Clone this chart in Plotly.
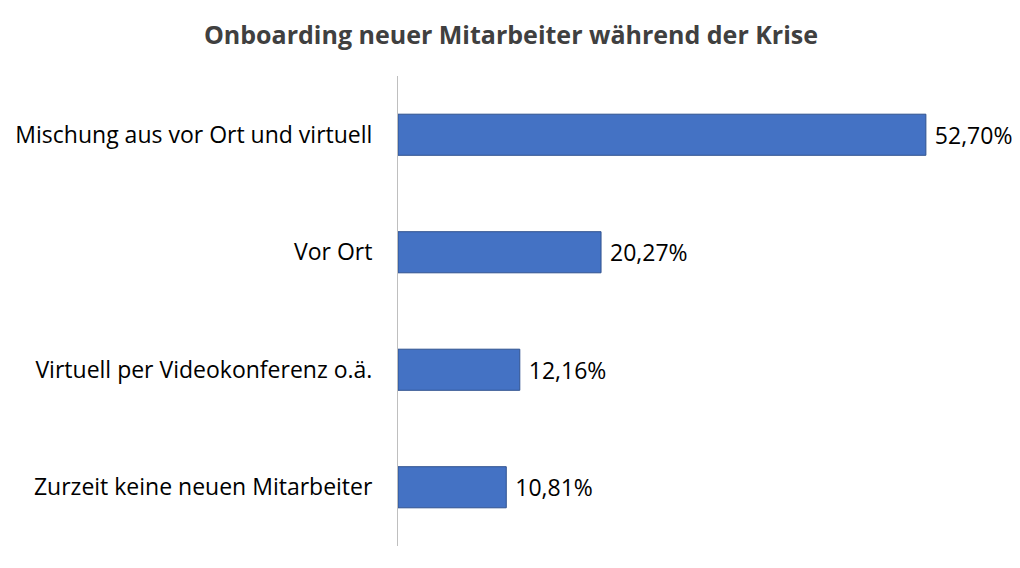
import plotly.graph_objects as go

categories = ["Mischung aus vor Ort und virtuell", "Vor Ort",
              "Virtuell per Videokonferenz o.ä.", "Zurzeit keine neuen Mitarbeiter"]
values = [52.70, 20.27, 12.16, 10.81]
labels = ["52,70%", "20,27%", "12,16%", "10,81%"]

fig = go.Figure(go.Bar(
    x=values, y=categories, orientation="h",
    marker=dict(color="#4472C4", line=dict(color="#2F528F", width=1)),
    width=0.35,
    text=labels, texttemplate="\u00a0%{text}", textposition="outside", cliponaxis=False,
    textfont=dict(family="Open Sans", size=23, color="#000000"),
))

fig.update_layout(
    width=1020, height=568,
    paper_bgcolor="white", plot_bgcolor="white",
    margin=dict(l=390, r=29, t=68, b=30, pad=0, autoexpand=False),
    title=dict(text="<b>Onboarding neuer Mitarbeiter während der Krise</b>",
               x=503 / 1020, xanchor="center", xref="container",
               y=1 - 27 / 568, yanchor="middle", yref="container",
               font=dict(family="Open Sans", size=25, color="#404040")),
    showlegend=False,
    font=dict(family="Open Sans"),
)
fig.update_xaxes(range=[0, 60], showgrid=False, zeroline=False,
                 showticklabels=False, ticks="", automargin=False)
fig.update_yaxes(categoryorder="array", categoryarray=categories[::-1],
                 autorange=False, range=[-0.5, 3.5], automargin=False,
                 showline=True, linecolor="#BFBFBF", linewidth=1,
                 ticks="", ticklabelstandoff=20,
                 tickfont=dict(family="Open Sans", size=23, color="#000000"))

fig.write_html("out.html")
